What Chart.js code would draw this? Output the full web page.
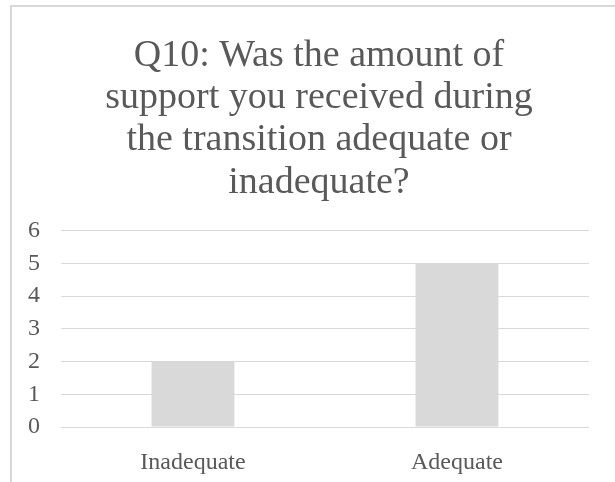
<!DOCTYPE html>
<html>
<head>
<meta charset="utf-8">
<script src="https://cdn.jsdelivr.net/npm/chart.js@4/dist/chart.umd.min.js"></script>
<style>
  html, body { margin: 0; padding: 0; background: #fff; overflow: hidden; }
  #frame {
    position: absolute; left: 10px; top: 5px;
    width: 616px; height: 490px;
    border: 2px solid #d9d9d9;
    background: #fff;
  }
  #chart { display: block; }
</style>
</head>
<body>
<div id="frame"><canvas id="chart" width="616" height="475"></canvas></div>
<script>
const titleLines = [
  'Q10: Was the amount of',
  'support you received during',
  'the transition adequate or',
  'inadequate?'
];
const categories = ['Inadequate', 'Adequate'];
const responses = [2, 5];
const yTicks = [0, 1, 2, 3, 4, 5, 6];

const textColor = '#595959';
const gridColor = '#d9d9d9';
const serif = '"Liberation Serif", "Times New Roman", serif';

// Centre the title over the frame rather than over the narrower plot box.
const titleOffset = {
  id: 'titleOffset',
  afterLayout(chart) {
    if (chart.titleBlock) {
      chart.titleBlock.left = 37;
    }
  }
};

new Chart(document.getElementById('chart'), {
  type: 'bar',
  data: {
    labels: categories,
    datasets: [{
      data: responses,
      backgroundColor: '#d9d9d9',
      borderWidth: 0,
      categoryPercentage: 1,
      barPercentage: 0.314
    }]
  },
  plugins: [titleOffset],
  options: {
    responsive: false,
    animation: false,
    layout: { padding: { left: 0, right: 39, top: 0, bottom: 0 } },
    plugins: {
      legend: { display: false },
      tooltip: { enabled: false },
      title: {
        display: true,
        text: titleLines,
        color: textColor,
        font: { family: serif, size: 38, weight: 'normal', lineHeight: 1.11 },
        padding: { top: 28, bottom: 27 }
      }
    },
    scales: {
      x: {
        afterFit: (scale) => { scale.height = 55; },
        grid: { display: false, drawTicks: false },
        border: { display: false },
        ticks: {
          color: textColor,
          font: { family: serif, size: 24 },
          padding: 21
        }
      },
      y: {
        min: yTicks[0],
        max: yTicks[yTicks.length - 1],
        afterFit: (scale) => { scale.width = 49; },
        afterBuildTicks: (scale) => { scale.ticks = yTicks.map(v => ({ value: v })); },
        grid: { color: gridColor, lineWidth: 1, drawTicks: false },
        border: { display: false },
        ticks: {
          color: textColor,
          font: { family: serif, size: 24 },
          padding: 21
        }
      }
    }
  }
});
</script>
</body>
</html>
